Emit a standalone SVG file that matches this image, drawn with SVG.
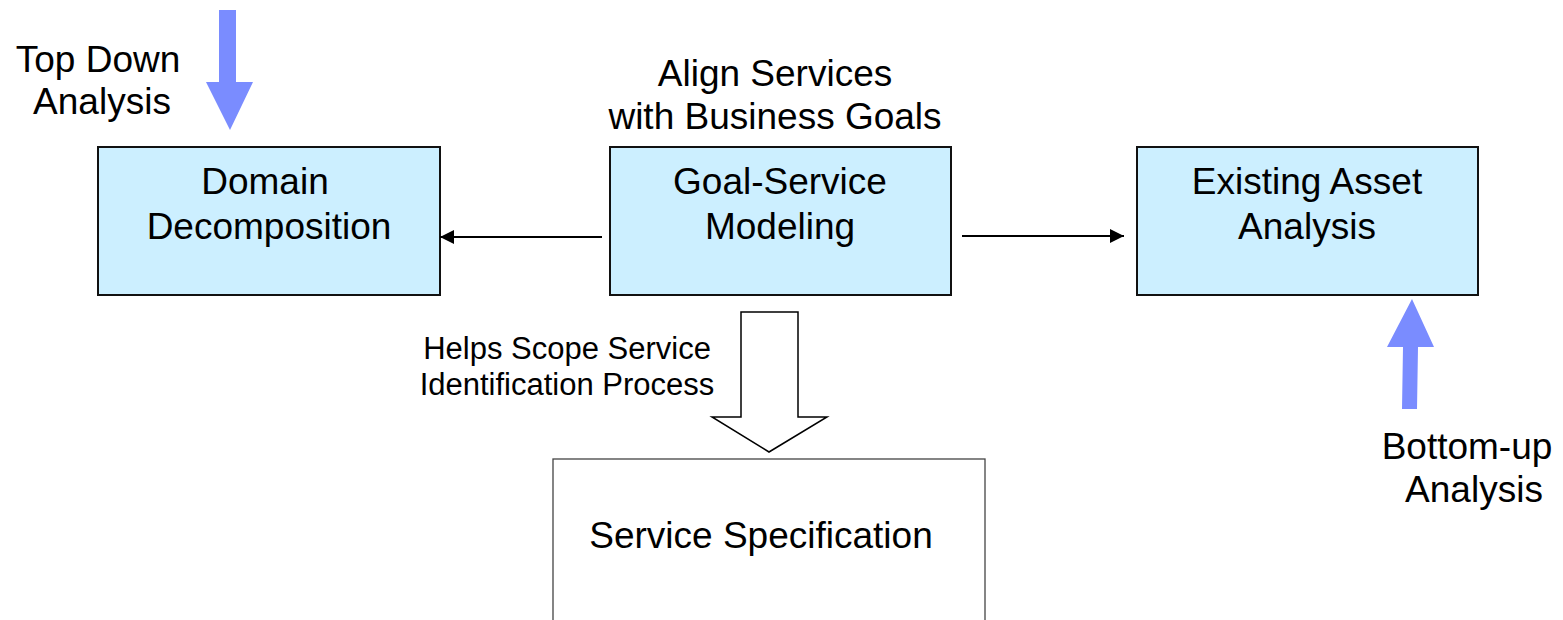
<svg xmlns="http://www.w3.org/2000/svg" width="1563" height="620" viewBox="0 0 1563 620">
<style>
  text { font-family: "Liberation Sans", Arial, sans-serif; fill: #000; text-anchor: middle; }
  .big { font-size: 37px; }
  .small { font-size: 31px; }
  .box { fill: #ccefff; stroke: #111; stroke-width: 2; }
  .spec { fill: #fff; stroke: #444; stroke-width: 1.3; }
  .conn { stroke: #000; stroke-width: 2; fill: none; }
  .blue { fill: #7a8cff; stroke: none; }
  .hollow { fill: #fff; stroke: #000; stroke-width: 1.5; stroke-linejoin: miter; }
</style>
<defs>
  <marker id="ah" viewBox="0 0 14 14" refX="14" refY="7" markerWidth="14" markerHeight="14" markerUnits="userSpaceOnUse" orient="auto">
    <path d="M0,0 L14,7 L0,14 Z" fill="#000"/>
  </marker>
</defs>
<rect width="1563" height="620" fill="#fff"/>

<g id="topdown">
  <polygon class="blue" points="219,10 236,10 236,82 253,82 230,130 206,82 219,82"/>
  <text class="big" x="98" y="72">Top Down</text>
  <text class="big" x="102" y="114">Analysis</text>
</g>

<g id="align-label">
  <text class="big" x="775" y="86">Align Services</text>
  <text class="big" x="775" y="129">with Business Goals</text>
</g>

<g id="domain">
  <rect class="box" x="98" y="147" width="342" height="148"/>
  <text class="big" x="265" y="194">Domain</text>
  <text class="big" x="269" y="239">Decomposition</text>
</g>

<g id="goal">
  <rect class="box" x="610" y="147" width="341" height="148"/>
  <text class="big" x="780" y="194">Goal-Service</text>
  <text class="big" x="780" y="239">Modeling</text>
</g>

<g id="existing">
  <rect class="box" x="1137" y="147" width="341" height="148"/>
  <text class="big" x="1307" y="194">Existing Asset</text>
  <text class="big" x="1307" y="239">Analysis</text>
</g>

<g id="bottomup">
  <polygon class="blue" points="1412,299 1434,347 1418,347 1417,409 1402,409 1403,347 1387,347"/>
  <text class="big" x="1467" y="459">Bottom-up</text>
  <text class="big" x="1474" y="502">Analysis</text>
</g>

<g id="spec">
  <rect class="spec" x="553" y="459" width="432" height="180"/>
  <text class="big" x="761" y="548">Service Specification</text>
</g>

<g id="connectors">
  <line class="conn" x1="602" y1="237" x2="440" y2="237" marker-end="url(#ah)"/>
  <line class="conn" x1="962" y1="236" x2="1124" y2="236" marker-end="url(#ah)"/>
  <polygon class="hollow" points="741,312 798,312 798,417 827,417 769,452 712,417 741,417"/>
  <text class="small" x="567" y="359">Helps Scope Service</text>
  <text class="small" x="567" y="395">Identification Process</text>
</g>
</svg>
